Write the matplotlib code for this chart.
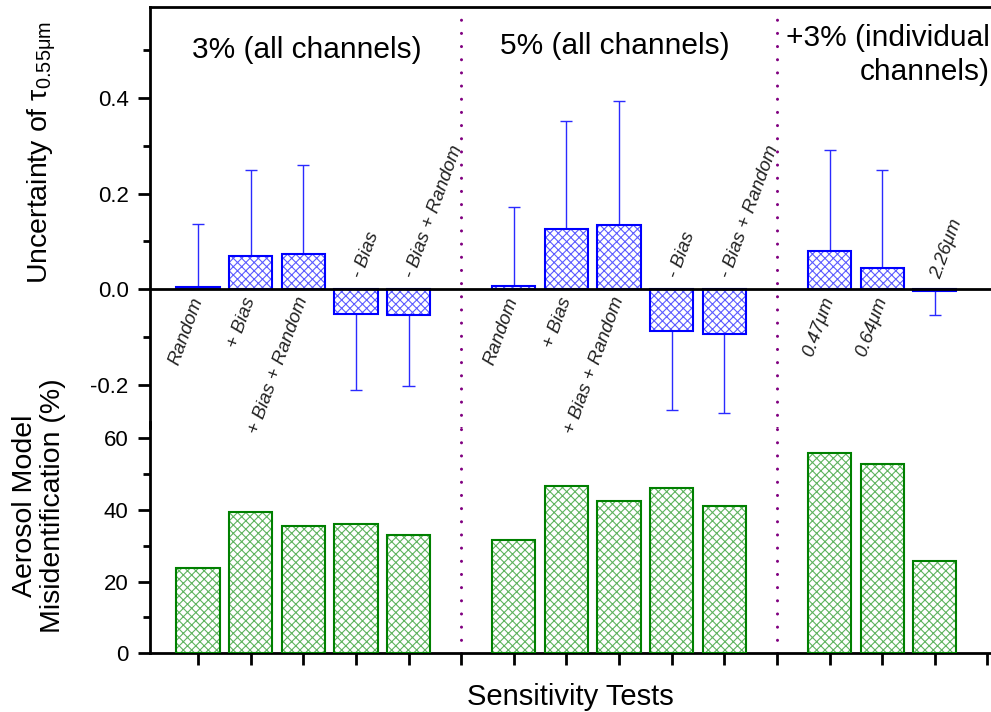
import matplotlib as mpl
mpl.use('Agg')
import matplotlib.pyplot as plt
import numpy as np

plt.rcParams['font.family'] = ['Liberation Sans', 'DejaVu Sans']
plt.rcParams['hatch.linewidth'] = 0.8

# posicoes das barras (6 e 12 sao os separadores)
pos_3 = [1, 2, 3, 4, 5]
pos_5 = [7, 8, 9, 10, 11]
pos_ind = [13, 14, 15]

labels_all = ['Random', '+ Bias', '+ Bias + Random', '- Bias', '- Bias + Random']
labels_ind = ['0.47\u03bcm', '0.64\u03bcm', '2.26\u03bcm']

# incerteza de tau 0.55um e tamanho da barra de erro (lado unico)
unc_3 = [0.005, 0.070, 0.074, -0.052, -0.054]
err_3 = [0.132, 0.179, 0.185, 0.158, 0.148]
unc_5 = [0.0075, 0.126, 0.134, -0.087, -0.093]
err_5 = [0.164, 0.225, 0.260, 0.165, 0.165]
unc_ind = [0.080, 0.044, -0.004]
err_ind = [0.211, 0.206, 0.050]

# identificacao errada do modelo de aerossol (%)
mis_3 = [23.8, 39.3, 35.4, 36.1, 33.0]
mis_5 = [31.5, 46.7, 42.4, 46.2, 41.0]
mis_ind = [55.8, 52.7, 25.8]

dividers = [6, 12]

pos = pos_3 + pos_5 + pos_ind
unc = unc_3 + unc_5 + unc_ind
err = err_3 + err_5 + err_ind
mis = mis_3 + mis_5 + mis_ind
labels = labels_all + labels_all + labels_ind

blue, blue_h = '#0000ff', '#5c5cff'
green, green_h = '#008000', '#5fb35f'
purple = '#800080'
bw = 0.82
slw = 2.0

fig = plt.figure(figsize=(9.91, 7.12), dpi=100)
ax1 = fig.add_axes([0.1514, 0.3989, 0.8486, 0.5913])
ax2 = fig.add_axes([0.1514, 0.0824, 0.8486, 0.3249])
ax2.patch.set_visible(False)

xlim = (0.088, 16.067)

# painel de cima
ax1.bar(pos, unc, bw, color='white', edgecolor=blue_h, hatch='xxxx', linewidth=0, zorder=2)
ax1.bar(pos, unc, bw, fill=False, edgecolor=blue, linewidth=1.5, zorder=3)
for x, v, e in zip(pos, unc, err):
    s = 1 if v >= 0 else -1
    ax1.vlines(x, v, v + s * e, color='#2a2aff', lw=1, zorder=2)
    ax1.hlines(v + s * e, x - 0.115, x + 0.115, color='#2a2aff', lw=1, zorder=2)
for x, v, lb in zip(pos, unc, labels):
    if v >= 0:
        ax1.text(x + 0.15, -0.012, lb, rotation=70, ha='right', va='top',
                 style='italic', fontsize=13.5, color='#222222')
    else:
        ax1.text(x - 0.12, 0.018, lb, rotation=70, ha='left', va='bottom',
                 style='italic', fontsize=13.5, color='#222222')
ax1.axhline(0, color='black', lw=slw, zorder=4)
for d in dividers:
    ax1.axvline(d, color=purple, lw=2.2, linestyle=(0, (0.01, 4.3)),
                dash_capstyle='round', zorder=1)

ax1.set_xlim(xlim)
ax1.set_ylim(-0.29, 0.5902)
ax1.set_yticks([-0.2, 0.0, 0.2, 0.4])
ax1.set_yticklabels(['-0.2', '0.0', '0.2', '0.4'])
ax1.set_yticks([-0.1, 0.1, 0.3, 0.5], minor=True)
ax1.set_xticks([])
ax1.spines['right'].set_visible(False)
ax1.spines['bottom'].set_visible(False)
ax1.spines['top'].set_linewidth(slw)
ax1.spines['left'].set_linewidth(slw)
ax1.tick_params(axis='y', which='major', length=8.5, width=slw, labelsize=16, pad=7)
ax1.tick_params(axis='y', which='minor', length=5, width=slw)

ax1.text(3.07, 0.50, '3% (all channels)', ha='center', va='center', fontsize=21.5)
ax1.text(8.92, 0.508, '5% (all channels)', ha='center', va='center', fontsize=21.5)
ax1.text(16.04, 0.49, '+3% (individual\nchannels)', ha='right', va='center',
         multialignment='right', fontsize=21.5, linespacing=1.25)

# painel de baixo
ax2.bar(pos, mis, bw, color='white', edgecolor=green_h, hatch='xxxx', linewidth=0, zorder=2)
ax2.bar(pos, mis, bw, fill=False, edgecolor=green, linewidth=1.5, zorder=3)
for d in dividers:
    ax2.axvline(d, color=purple, lw=2.2, linestyle=(0, (0.01, 4.3)),
                dash_capstyle='round', zorder=1)
ax2.set_xlim(xlim)
ax2.set_ylim(0, 64.55)
ax2.set_yticks([0, 20, 40, 60])
ax2.set_yticks([10, 30, 50], minor=True)
ax2.set_xticks(range(1, 17))
ax2.set_xticklabels([])
ax2.spines['right'].set_visible(False)
ax2.spines['top'].set_visible(False)
ax2.spines['bottom'].set_linewidth(slw)
ax2.spines['left'].set_linewidth(slw)
ax2.tick_params(axis='y', which='major', length=8.5, width=slw, labelsize=16, pad=7)
ax2.tick_params(axis='y', which='minor', length=5, width=slw)
ax2.tick_params(axis='x', which='major', length=8.5, width=slw)

fig.text(42 / 991, 1 - 153 / 712, 'Uncertainty of \u03c4$_{\\mathregular{0.55\u03bcm}}$',
         rotation=90, ha='center', va='center', fontsize=20.5)
fig.text(39 / 991, 1 - 506 / 712, 'Aerosol Model\nMisidentification (%)', rotation=90,
         ha='center', va='center', multialignment='center', fontsize=20.5, linespacing=1.1)
fig.text(570 / 991, 1 - 705 / 712, 'Sensitivity Tests', ha='center', va='baseline', fontsize=21)

fig.savefig('out.png', dpi=100)
